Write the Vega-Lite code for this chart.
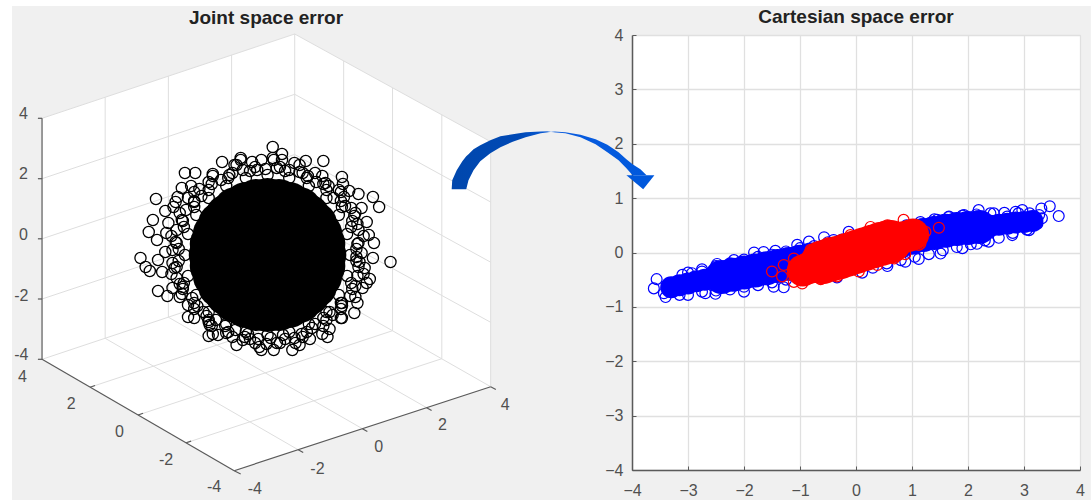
{"$schema":"https://vega.github.io/schema/vega-lite/v6.json","background":"white","padding":{"left":12,"top":6,"right":0,"bottom":0},"bounds":"flush","spacing":0,
"datasets":{
"panel":[{"u":1.162,"u2":105.6,"v":0.6,"v2":50}],
"walls":[{"u":4.07,"v":11.83,"v2":35.93},{"u":22.67,"v":5.42,"v2":47.07},{"u":28.53,"v":3.4,"v2":45.08},{"u":47.5,"v":14.17,"v2":38.67}],
"grid3d":[{"u":10.18,"v":9.73,"u2":10.18,"v2":33.83},{"u":16.3,"v":7.62,"u2":16.3,"v2":31.72},{"u":22.42,"v":5.5,"u2":22.42,"v2":29.6},{"u":28.53,"v":3.4,"u2":28.53,"v2":27.5},{"u":33.27,"v":6.1,"u2":33.27,"v2":30.3},{"u":38,"v":8.8,"u2":38,"v2":33.07},{"u":42.77,"v":11.47,"u2":42.77,"v2":35.87},{"u":47.5,"v":14.17,"u2":47.5,"v2":38.67},{"u":4.07,"v":11.83,"u2":28.53,"v2":3.4},{"u":4.07,"v":17.87,"u2":28.53,"v2":9.43},{"u":4.07,"v":23.88,"u2":28.53,"v2":15.45},{"u":4.07,"v":29.9,"u2":28.53,"v2":21.47},{"u":4.07,"v":35.93,"u2":28.53,"v2":27.5},{"u":28.53,"v":3.4,"u2":47.5,"v2":14.17},{"u":28.53,"v":9.43,"u2":47.5,"v2":20.2},{"u":28.53,"v":15.45,"u2":47.5,"v2":26.22},{"u":28.53,"v":21.47,"u2":47.5,"v2":32.23},{"u":28.53,"v":27.5,"u2":47.5,"v2":38.67},{"u":8.72,"v":38.72,"u2":33.27,"v2":30.3},{"u":13.37,"v":41.5,"u2":38,"v2":33.07},{"u":18.02,"v":44.28,"u2":42.77,"v2":35.87},{"u":10.18,"v":33.83,"u2":28.87,"v2":44.98},{"u":16.3,"v":31.72,"u2":35.08,"v2":42.87},{"u":22.42,"v":29.6,"u2":41.3,"v2":40.77}],
"axis3d":[{"u":4.07,"v":11.83,"u2":4.07,"v2":35.93},{"u":4.07,"v":35.93,"u2":22.67,"v2":47.07},{"u":22.67,"v":47.07,"u2":47.5,"v2":38.67},{"u":3.67,"v":11.83,"u2":4.07,"v2":11.83},{"u":3.67,"v":17.87,"u2":4.07,"v2":17.87},{"u":3.67,"v":23.88,"u2":4.07,"v2":23.88},{"u":3.67,"v":29.9,"u2":4.07,"v2":29.9},{"u":3.67,"v":35.93,"u2":4.07,"v2":35.93},{"u":8.72,"v":38.72,"u2":9.2,"v2":38.55},{"u":13.37,"v":41.5,"u2":13.85,"v2":41.33},{"u":18.02,"v":44.28,"u2":18.5,"v2":44.11},{"u":22.67,"v":47.07,"u2":23.3,"v2":47.4},{"u":28.87,"v":44.98,"u2":29.35,"v2":45.26},{"u":35.08,"v":42.87,"u2":35.56,"v2":43.15},{"u":41.3,"v":40.77,"u2":41.78,"v2":41.05},{"u":47.5,"v":38.67,"u2":48,"v2":38.95}],
"labels3d":[{"u":2.27,"v":11.4,"t":"4"},{"u":2.27,"v":17.4,"t":"2"},{"u":2.27,"v":23.5,"t":"0"},{"u":2.07,"v":29.6,"t":"-2"},{"u":2.07,"v":35.5,"t":"-4"},{"u":2.17,"v":37.7,"t":"4"},{"u":6.9,"v":40.4,"t":"2"},{"u":11.57,"v":43.2,"t":"0"},{"u":16.07,"v":46,"t":"-2"},{"u":20.73,"v":48.7,"t":"-4"},{"u":24.67,"v":48.9,"t":"-4"},{"u":30.73,"v":46.9,"t":"-2"},{"u":36.67,"v":44.7,"t":"0"},{"u":42.83,"v":42.5,"t":"2"},{"u":48.9,"v":40.5,"t":"4"}],
"jointTitle":[{"u":25.75,"v":1.83,"t":"Joint space error"}],
"jointDense":[{"u":25.9,"v":25.5},{"u":28.9,"v":25.5},{"u":28,"v":27.6},{"u":25.9,"v":28.5},{"u":23.8,"v":27.6},{"u":22.9,"v":25.5},{"u":23.8,"v":23.4},{"u":25.9,"v":22.5},{"u":28,"v":23.4},{"u":31.4,"v":25.5},{"u":31,"v":27.6},{"u":29.8,"v":29.4},{"u":28,"v":30.6},{"u":25.9,"v":31},{"u":23.8,"v":30.6},{"u":22,"v":29.4},{"u":20.8,"v":27.6},{"u":20.4,"v":25.5},{"u":20.8,"v":23.4},{"u":22,"v":21.6},{"u":23.8,"v":20.4},{"u":25.9,"v":20},{"u":28,"v":20.4},{"u":29.8,"v":21.6},{"u":31,"v":23.4},{"u":31.3,"v":26.6},{"u":30.5,"v":28.6},{"u":29,"v":30.1},{"u":27,"v":30.9},{"u":24.8,"v":30.9},{"u":22.8,"v":30.1},{"u":21.3,"v":28.6},{"u":20.5,"v":26.6},{"u":20.5,"v":24.4},{"u":21.3,"v":22.4},{"u":22.8,"v":20.9},{"u":24.8,"v":20.1},{"u":27,"v":20.1},{"u":29,"v":20.9},{"u":30.5,"v":22.4},{"u":31.3,"v":24.4}],
"jointRing":[{"u":26.4,"v":14.7},{"u":26.4,"v":15.8},{"u":27.3,"v":15.4},{"u":23.3,"v":15.8},{"u":23.3,"v":16},{"u":24.4,"v":16.2},{"u":21.5,"v":16.2},{"u":22.7,"v":16.5},{"u":28.5,"v":16.3},{"u":29.6,"v":16.1},{"u":31.3,"v":16.1},{"u":27.3,"v":16},{"u":17.9,"v":17.3},{"u":18.9,"v":17.3},{"u":20.6,"v":17.4},{"u":33.1,"v":17.7},{"u":33.2,"v":18.4},{"u":30.5,"v":17.3},{"u":31.5,"v":18.3},{"u":20.2,"v":18.2},{"u":18.5,"v":18.6},{"u":17.6,"v":18.8},{"u":19.3,"v":18.9},{"u":15.1,"v":19.9},{"u":17.2,"v":19.7},{"u":17,"v":20.2},{"u":18.2,"v":19.8},{"u":16,"v":21.1},{"u":16.8,"v":20.7},{"u":14.8,"v":22},{"u":16.3,"v":22.3},{"u":14.4,"v":23.2},{"u":16.1,"v":23.3},{"u":15.2,"v":24},{"u":13.6,"v":25.8},{"u":14.1,"v":26.7},{"u":14.5,"v":27.1},{"u":15.7,"v":27.2},{"u":16,"v":25.2},{"u":15.3,"v":26},{"u":16.7,"v":26.3},{"u":15.3,"v":29.1},{"u":16.2,"v":29.6},{"u":16.7,"v":28.8},{"u":18.2,"v":31.7},{"u":18.2,"v":30.5},{"u":17.7,"v":28.7},{"u":19.7,"v":31.2},{"u":20.2,"v":32.2},{"u":20.3,"v":32.5},{"u":20.2,"v":33.6},{"u":21.1,"v":33.5},{"u":21.9,"v":33.3},{"u":23.5,"v":34},{"u":23.7,"v":33.7},{"u":25.1,"v":34.7},{"u":25.8,"v":34.4},{"u":26.8,"v":34.3},{"u":28.3,"v":35},{"u":28.6,"v":34.3},{"u":28.5,"v":33.8},{"u":30,"v":33.9},{"u":31.7,"v":33.7},{"u":31.9,"v":32.9},{"u":33.1,"v":31.8},{"u":34.3,"v":31.3},{"u":34.6,"v":30.3},{"u":33.1,"v":30.6},{"u":31.9,"v":31.2},{"u":31.3,"v":31.8},{"u":30.2,"v":32.8},{"u":35.1,"v":28.8},{"u":35.8,"v":27.9},{"u":35.5,"v":28.3},{"u":35.3,"v":26.8},{"u":36.1,"v":25.8},{"u":37.8,"v":26.2},{"u":36.2,"v":24.3},{"u":35.7,"v":23.5},{"u":35.5,"v":22.2},{"u":35,"v":20.8},{"u":36.7,"v":20.7},{"u":36.1,"v":19.7},{"u":34.7,"v":19.4},{"u":33.8,"v":19.1},{"u":32.3,"v":19.8},{"u":33.3,"v":19.7},{"u":34,"v":20.8},{"u":34.7,"v":23},{"u":35,"v":25.3},{"u":34.5,"v":25.7},{"u":24.9,"v":17},{"u":25.7,"v":16.9},{"u":26.8,"v":16.8},{"u":28,"v":17},{"u":29,"v":17.2},{"u":22.2,"v":17.5},{"u":21.4,"v":18},{"u":23.5,"v":17},{"u":19.5,"v":19.6},{"u":18.8,"v":20.2},{"u":18,"v":21},{"u":17.6,"v":22},{"u":17.1,"v":23},{"u":17,"v":24.2},{"u":16.7,"v":25},{"u":16.9,"v":26.8},{"u":17.1,"v":27.8},{"u":17.4,"v":28.4},{"u":17.6,"v":29.4},{"u":18.6,"v":29.8},{"u":19.1,"v":30.6},{"u":20,"v":31.6},{"u":20.9,"v":32},{"u":21.8,"v":32.6},{"u":22.8,"v":33},{"u":24,"v":33.4},{"u":25,"v":33.9},{"u":26.2,"v":33.8},{"u":27.4,"v":33.5},{"u":29.2,"v":33.4},{"u":30.5,"v":32.4},{"u":32.2,"v":31.5},{"u":33,"v":30.3},{"u":33.9,"v":29.6},{"u":34.4,"v":28.6},{"u":34.6,"v":27.6},{"u":34.8,"v":26.2},{"u":34.6,"v":24.4},{"u":34.6,"v":22.4},{"u":34.3,"v":21.6},{"u":33.4,"v":20.6},{"u":32.8,"v":19},{"u":31.8,"v":18.6},{"u":30.6,"v":18.2},{"u":29.8,"v":17.6},{"u":33.9,"v":25.5},{"u":34.7,"v":26.7},{"u":33.6,"v":27.6},{"u":34.1,"v":28.9},{"u":32.8,"v":29.5},{"u":33,"v":30.9},{"u":31.6,"v":31.2},{"u":31.3,"v":32.6},{"u":29.9,"v":32.4},{"u":29.3,"v":33.7},{"u":28,"v":33.2},{"u":27.1,"v":34.3},{"u":25.9,"v":33.5},{"u":24.7,"v":34.3},{"u":23.8,"v":33.2},{"u":22.5,"v":33.7},{"u":21.9,"v":32.4},{"u":20.5,"v":32.6},{"u":20.2,"v":31.2},{"u":18.8,"v":30.9},{"u":19,"v":29.5},{"u":17.7,"v":28.9},{"u":18.2,"v":27.6},{"u":17.1,"v":26.7},{"u":17.9,"v":25.5},{"u":17.1,"v":24.3},{"u":18.2,"v":23.4},{"u":17.7,"v":22.1},{"u":19,"v":21.5},{"u":18.8,"v":20.1},{"u":20.2,"v":19.8},{"u":20.5,"v":18.4},{"u":21.9,"v":18.6},{"u":22.5,"v":17.3},{"u":23.8,"v":17.8},{"u":24.7,"v":16.7},{"u":25.9,"v":17.5},{"u":27.1,"v":16.7},{"u":28,"v":17.8},{"u":29.3,"v":17.3},{"u":29.9,"v":18.6},{"u":31.3,"v":18.4},{"u":31.6,"v":19.8},{"u":33,"v":20.1},{"u":32.8,"v":21.5},{"u":34.1,"v":22.1},{"u":33.6,"v":23.4},{"u":34.7,"v":24.3},{"u":34.5,"v":26.1},{"u":35.2,"v":27.4},{"u":34,"v":28.3},{"u":34.4,"v":29.7},{"u":33.1,"v":30.3},{"u":33,"v":31.8},{"u":31.6,"v":32},{"u":31.2,"v":33.4},{"u":29.7,"v":33.2},{"u":29,"v":34.5},{"u":27.6,"v":33.9},{"u":26.5,"v":35},{"u":17.3,"v":26.1},{"u":16.6,"v":27.4},{"u":17.8,"v":28.3},{"u":17.4,"v":29.7},{"u":18.8,"v":30.3},{"u":18.8,"v":31.8},{"u":20.2,"v":32},{"u":20.6,"v":33.4},{"u":22.1,"v":33.2},{"u":22.9,"v":34.5},{"u":24.2,"v":33.9},{"u":25.3,"v":35},{"u":17.3,"v":24.9},{"u":16.6,"v":23.6},{"u":17.8,"v":22.7},{"u":17.4,"v":21.3},{"u":18.8,"v":20.7},{"u":18.8,"v":19.2},{"u":20.2,"v":19},{"u":20.6,"v":17.6},{"u":22.1,"v":17.8},{"u":22.9,"v":16.5},{"u":24.2,"v":17.1},{"u":25.3,"v":16},{"u":34.5,"v":24.9},{"u":35.2,"v":23.6},{"u":34,"v":22.7},{"u":34.4,"v":21.3},{"u":33.1,"v":20.7},{"u":33,"v":19.2},{"u":31.6,"v":19},{"u":31.2,"v":17.6},{"u":29.7,"v":17.8},{"u":29,"v":16.5},{"u":27.6,"v":17.1},{"u":26.5,"v":16}],
"blueWide":[{"x":-2.4,"y":-0.45},{"x":-2.2,"y":-0.41},{"x":-2,"y":-0.37},{"x":-1.8,"y":-0.33},{"x":-1.6,"y":-0.29},{"x":-1.4,"y":-0.25},{"x":-1.2,"y":-0.21},{"x":-1,"y":-0.17},{"x":-0.8,"y":-0.13},{"x":-0.6,"y":-0.09},{"x":-0.4,"y":-0.05},{"x":-0.2,"y":-0.01},{"x":0,"y":0.03},{"x":0.2,"y":0.07},{"x":0.4,"y":0.12},{"x":0.6,"y":0.17},{"x":0.8,"y":0.22},{"x":1,"y":0.27},{"x":1.2,"y":0.32},{"x":1.4,"y":0.36},{"x":1.6,"y":0.4},{"x":1.8,"y":0.43},{"x":2,"y":0.45},{"x":2.2,"y":0.47}],
"blueNarrow":[{"x":-3.3,"y":-0.64},{"x":-3.15,"y":-0.6},{"x":-3,"y":-0.57},{"x":-2.85,"y":-0.53},{"x":-2.7,"y":-0.5},{"x":-2.55,"y":-0.47},{"x":2.4,"y":0.49},{"x":2.55,"y":0.51},{"x":2.7,"y":0.53},{"x":2.85,"y":0.55},{"x":3,"y":0.56},{"x":3.15,"y":0.58}],
"blueRing":[{"x":-3.56,"y":-0.49},{"x":-3.61,"y":-0.66},{"x":-3.4,"y":-0.82},{"x":-3.43,"y":-0.75},{"x":-3.28,"y":-0.63},{"x":-3.15,"y":-0.78},{"x":-3.31,"y":-0.66},{"x":-3.1,"y":-0.41},{"x":-2.93,"y":-0.38},{"x":-2.75,"y":-0.35},{"x":-2.48,"y":-0.21},{"x":-2.18,"y":-0.14},{"x":-1.82,"y":0},{"x":-1.65,"y":0.01},{"x":-1.44,"y":0.03},{"x":-1.05,"y":0.14},{"x":-0.84,"y":0.2},{"x":-0.57,"y":0.28},{"x":-0.4,"y":0.23},{"x":-0.13,"y":0.38},{"x":-2.69,"y":-0.75},{"x":-2.51,"y":-0.76},{"x":-2,"y":-0.72},{"x":-1.47,"y":-0.63},{"x":-1.29,"y":-0.64},{"x":-0.34,"y":-0.46},{"x":0.11,"y":-0.37},{"x":0.56,"y":-0.25},{"x":0.88,"y":-0.17},{"x":1.12,"y":-0.12},{"x":1.51,"y":-0.02},{"x":1.9,"y":0.08},{"x":2.16,"y":0.16},{"x":2.37,"y":0.2},{"x":2.79,"y":0.32},{"x":3.09,"y":0.41},{"x":3.62,"y":0.67},{"x":3.46,"y":0.85},{"x":3.31,"y":0.81},{"x":3.27,"y":0.69},{"x":2.97,"y":0.78},{"x":2.85,"y":0.75},{"x":2.94,"y":0.6},{"x":3.24,"y":0.53},{"x":3.32,"y":0.63},{"x":2.19,"y":0.78},{"x":1.93,"y":0.69},{"x":1.66,"y":0.66},{"x":1.45,"y":0.6},{"x":2.46,"y":0.72},{"x":2.7,"y":0.66},{"x":-3,"y":-0.37},{"x":-2.75,"y":-0.31},{"x":-2.5,"y":-0.25},{"x":-2.25,"y":-0.2},{"x":-2,"y":-0.13},{"x":-1.75,"y":-0.08},{"x":-1.5,"y":-0.04},{"x":-1.25,"y":0.02},{"x":-1,"y":0.08},{"x":-0.75,"y":0.12},{"x":-0.5,"y":0.19},{"x":-0.25,"y":0.24},{"x":0,"y":0.29},{"x":0.9,"y":0.5},{"x":1.15,"y":0.56},{"x":1.4,"y":0.61},{"x":1.65,"y":0.65},{"x":1.9,"y":0.68},{"x":2.15,"y":0.7},{"x":2.4,"y":0.72},{"x":2.65,"y":0.73},{"x":2.9,"y":0.72},{"x":3.1,"y":0.72},{"x":-3,"y":-0.78},{"x":-2.75,"y":-0.72},{"x":-2.5,"y":-0.7},{"x":-2.25,"y":-0.68},{"x":-2,"y":-0.63},{"x":-1.75,"y":-0.6},{"x":-1.5,"y":-0.55},{"x":-1.25,"y":-0.5},{"x":-1,"y":-0.47},{"x":-0.75,"y":-0.45},{"x":-0.5,"y":-0.37},{"x":0.3,"y":-0.28},{"x":0.55,"y":-0.2},{"x":0.8,"y":-0.14},{"x":1.05,"y":-0.08},{"x":1.3,"y":-0.03},{"x":1.55,"y":0.04},{"x":1.8,"y":0.1},{"x":2.05,"y":0.15},{"x":2.3,"y":0.22},{"x":2.55,"y":0.27},{"x":2.8,"y":0.36},{"x":3.05,"y":0.42}],
"redWide":[{"x":-0.6,"y":-0.18},{"x":-0.45,"y":-0.13},{"x":-0.3,"y":-0.09},{"x":-0.15,"y":-0.04},{"x":0,"y":0.01},{"x":0.15,"y":0.06},{"x":0.3,"y":0.11},{"x":0.45,"y":0.16},{"x":0.6,"y":0.2}],
"redNarrow":[{"x":-0.95,"y":-0.33},{"x":-0.85,"y":-0.29},{"x":-0.75,"y":-0.25},{"x":0.75,"y":0.25},{"x":0.85,"y":0.28},{"x":0.95,"y":0.31},{"x":1.02,"y":0.33}],
"redRing":[{"x":-1.5,"y":-0.35},{"x":-1.29,"y":-0.23},{"x":-1.32,"y":-0.44},{"x":-1.11,"y":-0.54},{"x":-0.96,"y":-0.57},{"x":1.48,"y":0.455},{"x":1.24,"y":0.38},{"x":1.15,"y":0.16},{"x":0.88,"y":-0.03},{"x":1.12,"y":0.14},{"x":0.85,"y":0.6},{"x":0.56,"y":0.5},{"x":0.26,"y":0.47},{"x":-0.1,"y":0.32},{"x":-0.51,"y":0.17},{"x":-0.81,"y":0.05},{"x":-1.11,"y":-0.11},{"x":-0.34,"y":-0.44},{"x":0.05,"y":-0.35},{"x":0.38,"y":-0.23},{"x":0.68,"y":-0.11},{"x":-0.63,"y":-0.49}],
"arrowShaft":[{"x":-7.22,"y":1.165,"y2":1.165},{"x":-7.21,"y":1.33,"y2":1.165},{"x":-7.13,"y":1.514,"y2":1.165},{"x":-7.03,"y":1.679,"y2":1.165},{"x":-6.96,"y":1.771,"y2":1.165},{"x":-6.92,"y":1.807,"y2":1.33},{"x":-6.83,"y":1.899,"y2":1.514},{"x":-6.71,"y":1.972,"y2":1.679},{"x":-6.53,"y":2.064,"y2":1.826},{"x":-6.35,"y":2.138,"y2":1.936},{"x":-6.13,"y":2.174,"y2":2.037},{"x":-5.9,"y":2.211,"y2":2.119},{"x":-5.63,"y":2.224,"y2":2.193},{"x":-5.46,"y":2.229,"y2":2.218},{"x":-5.19,"y":2.211,"y2":2.193},{"x":-4.92,"y":2.165,"y2":2.119},{"x":-4.65,"y":2.083,"y2":1.991},{"x":-4.44,"y":1.982,"y2":1.844},{"x":-4.24,"y":1.844,"y2":1.697},{"x":-4.1,"y":1.716,"y2":1.55},{"x":-3.99,"y":1.624,"y2":1.422},{"x":-3.85,"y":1.532,"y2":1.422},{"x":-3.74,"y":1.422,"y2":1.422}],
"arrowHead":[{"x":-4.1,"y":1.422,"y2":1.422},{"x":-3.8,"y":1.422,"y2":1.165},{"x":-3.6,"y":1.422,"y2":1.422}]
},
"hconcat":[
{"width":620,"height":435,
"view":{"stroke":null},
"encoding":{"x":{"field":"u","type":"quantitative","axis":null,"scale":{"domain":[1.162,61.18],"nice":false,"zero":false}},"y":{"field":"v","type":"quantitative","axis":null,"scale":{"domain":[47,3.5],"nice":false,"zero":false}}},
"layer":[
{"data":{"name":"panel"},"mark":{"type":"rect","color":"#f0f0f0"},"encoding":{"x2":{"field":"u2"},"y2":{"field":"v2"}}},
{"data":{"name":"walls"},"mark":{"type":"area","color":"#ffffff"},"encoding":{"y":{"field":"v","type":"quantitative","stack":null},"y2":{"field":"v2"}}},
{"data":{"name":"grid3d"},"mark":{"type":"rule","color":"#dedede","strokeWidth":1},"encoding":{"x2":{"field":"u2"},"y2":{"field":"v2"}}},
{"data":{"name":"axis3d"},"mark":{"type":"rule","color":"#5a5a5a","strokeWidth":1.2},"encoding":{"x2":{"field":"u2"},"y2":{"field":"v2"}}},
{"data":{"name":"labels3d"},"mark":{"type":"text","font":"Liberation Sans","fontSize":16,"color":"#505050","align":"center","baseline":"middle"},"encoding":{"text":{"field":"t"}}},
{"data":{"name":"jointTitle"},"mark":{"type":"text","font":"Liberation Sans","fontSize":19,"fontWeight":"bold","color":"#222222","align":"center","baseline":"middle"},"encoding":{"text":{"field":"t"}}},
{"data":{"name":"jointRing"},"mark":{"type":"point","shape":"circle","filled":false,"color":"#000000","size":125,"strokeWidth":1.3,"opacity":1}},
{"data":{"name":"jointDense"},"mark":{"type":"point","shape":"circle","filled":true,"color":"#000000","size":1936,"opacity":1}}
]},
{"width":448,"height":435,
"view":{"fill":"#ffffff","stroke":"#e2e2e2"},
"title":{"text":"Cartesian space error","font":"Liberation Sans","fontSize":19,"fontWeight":"bold","color":"#222222","offset":0},
"encoding":{
"x":{"field":"x","type":"quantitative","scale":{"domain":[-4,4],"nice":false,"zero":false},"axis":{"values":[-4,-3,-2,-1,0,1,2,3,4],"title":null,"grid":true,"gridColor":"#e0e0e0","gridWidth":1.3,"gridOpacity":1,"domainColor":"#5a5a5a","domainWidth":1.5,"tickColor":"#5a5a5a","tickSize":-4,"labelPadding":16,"labelFont":"Liberation Sans","labelFontSize":16,"labelColor":"#505050","labelFlush":false,"format":"d"}},
"y":{"field":"y","type":"quantitative","scale":{"domain":[-4,4],"nice":false,"zero":false},"axis":{"values":[-4,-3,-2,-1,0,1,2,3,4],"title":null,"grid":true,"gridColor":"#e0e0e0","gridWidth":1.3,"gridOpacity":1,"domainColor":"#5a5a5a","domainWidth":1.5,"tickColor":"#5a5a5a","tickSize":-4,"labelPadding":13,"labelFont":"Liberation Sans","labelFontSize":16,"labelColor":"#505050","labelFlush":false,"format":"d"}}
},
"layer":[
{"data":{"name":"blueRing"},"mark":{"type":"point","shape":"circle","filled":false,"color":"#0000ff","size":118,"strokeWidth":1.2,"opacity":1}},
{"data":{"name":"blueWide"},"mark":{"type":"point","shape":"circle","filled":true,"color":"#0000ff","size":1156,"opacity":1}},
{"data":{"name":"blueNarrow"},"mark":{"type":"point","shape":"circle","filled":true,"color":"#0000ff","size":484,"opacity":1}},
{"data":{"name":"redRing"},"mark":{"type":"point","shape":"circle","filled":false,"color":"#ff0000","size":118,"strokeWidth":1.2,"opacity":1}},
{"data":{"name":"redWide"},"mark":{"type":"point","shape":"circle","filled":true,"color":"#ff0000","size":1936,"opacity":1}},
{"data":{"name":"redNarrow"},"mark":{"type":"point","shape":"circle","filled":true,"color":"#ff0000","size":1024,"opacity":1}},
{"data":{"name":"arrowShaft"},"mark":{"type":"area","color":{"gradient":"linear","x1":0,"y1":0,"x2":1,"y2":0,"stops":[{"offset":0,"color":"#0047ad"},{"offset":0.35,"color":"#0049b5"},{"offset":0.49,"color":"#0a5cd8"},{"offset":0.51,"color":"#cfe0f8"},{"offset":0.53,"color":"#0a5cdf"},{"offset":1,"color":"#0058dc"}]}},"encoding":{"y":{"field":"y","type":"quantitative","stack":null},"y2":{"field":"y2"}}},
{"data":{"name":"arrowHead"},"mark":{"type":"area","color":"#0058dc"},"encoding":{"y":{"field":"y","type":"quantitative","stack":null},"y2":{"field":"y2"}}}
]}
],
"config":{"axis":{"ticks":true}}
}
